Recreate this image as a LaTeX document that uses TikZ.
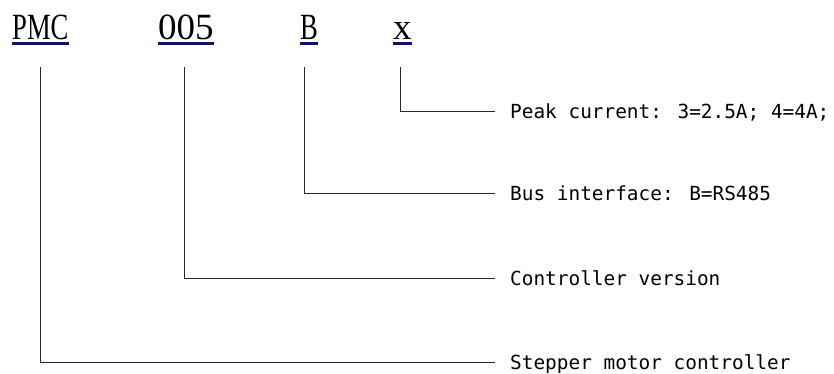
\documentclass[tikz,border=0pt]{standalone}
\usepackage{fontspec}
\newfontfamily\topletters[FakeStretch=0.72]{Liberation Serif}
\newfontfamily\topdigits{Liberation Serif}
\newfontfamily\labelfont{DejaVu Sans Mono}
\definecolor{ulnavy}{RGB}{16,16,128}
\begin{document}
\begin{tikzpicture}[x=1pt,y=-1pt,
  code/.style={inner sep=0pt, anchor=base west, font=\fontsize{37}{37}\selectfont},
  desc/.style={inner xsep=15pt, inner ysep=0pt, anchor=base west, font=\labelfont\fontsize{19.4}{19.4}\selectfont},
  uline/.style={draw=ulnavy, line width=3pt},
  conn/.style={draw=black!85, line width=1pt}]
\useasboundingbox (0,0) rectangle (834,373);
% code parts
\node[code] (pmc) at (12,39) {\topletters PMC};
\node[code] (ver) at (158,39) {\topdigits 005};
\node[code] (bus) at (300,39) {\topletters B};
\node[code] (cur) at (393,39) {\topdigits x};
\foreach \n in {pmc,ver,bus,cur}
  \draw[uline] ([yshift=-4.5pt]\n.base west) -- ([yshift=-4.5pt]\n.base east);
% descriptions
\node[desc] (dcur) at (495,118.5) {Peak current: 3=2.5A; 4=4A;};
\node[desc] (dbus) at (495,200.5) {Bus interface: B=RS485};
\node[desc] (dver) at (495,285.5) {Controller version};
\node[desc] (dpmc) at (495,369.5) {Stepper motor controller};
% connector starts
\coordinate (spmc) at (40,67);
\coordinate (sver) at (184,67);
\coordinate (sbus) at (304,67);
\coordinate (scur) at (400,67);
\draw[conn] (scur) |- ([yshift=7.5pt]dcur.base west);
\draw[conn] (sbus) |- ([yshift=7.5pt]dbus.base west);
\draw[conn] (sver) |- ([yshift=7.5pt]dver.base west);
\draw[conn] (spmc) |- ([yshift=7.5pt]dpmc.base west);
\end{tikzpicture}
\end{document}
